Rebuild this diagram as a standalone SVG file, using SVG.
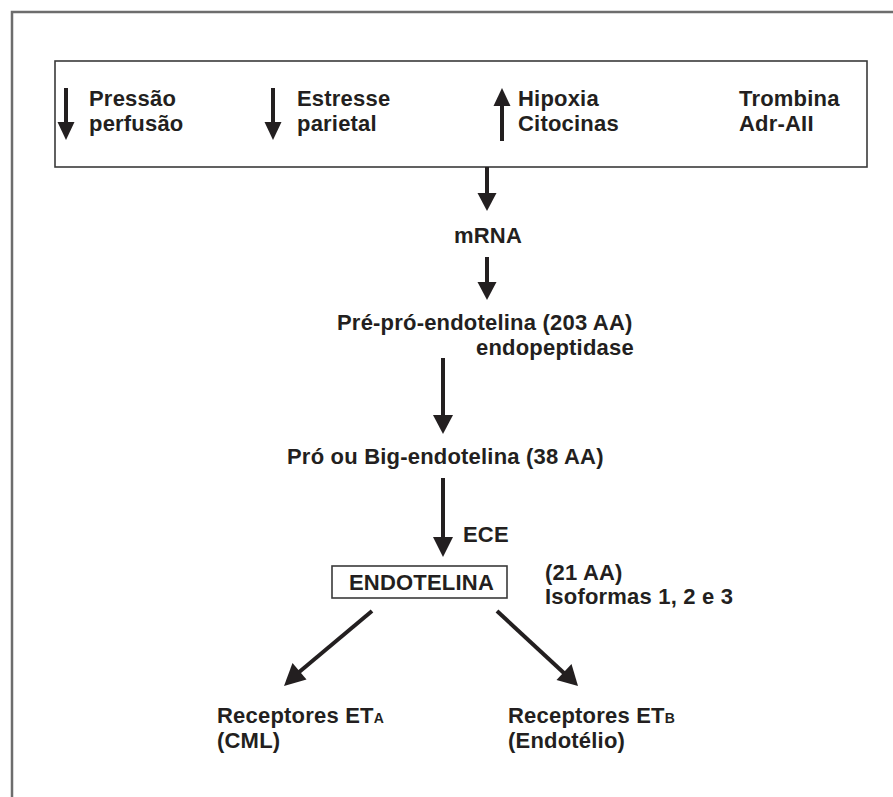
<svg xmlns="http://www.w3.org/2000/svg" width="893" height="797" viewBox="0 0 893 797">
<style>
  text { font-family: "Liberation Sans", Arial, sans-serif; font-weight: bold; font-size: 22px; letter-spacing: 0.2px; fill: #231f20; }
  .sub { font-size: 14px; letter-spacing: 0; }
  .shaft { stroke: #231f20; stroke-width: 4; fill: none; }
  .head { fill: #231f20; stroke: none; }
  .frame { fill: #ffffff; stroke: #6d6d6d; stroke-width: 2.5; }
  .box { fill: #ffffff; stroke: #3a3a3a; stroke-width: 1.6; }
</style>
<rect x="0" y="0" width="893" height="797" fill="#ffffff"/>
<rect class="frame" x="12" y="12" width="900" height="800"/>

<g id="stimuli">
  <rect class="box" x="55" y="61" width="812" height="106"/>
  <g id="pressao">
    <line class="shaft" x1="66" y1="88" x2="66" y2="124"/>
    <polygon class="head" points="57.5,122 74.5,122 66,140"/>
    <text x="89" y="106">Pressão</text>
    <text x="89" y="131">perfusão</text>
  </g>
  <g id="estresse">
    <line class="shaft" x1="273" y1="88" x2="273" y2="124"/>
    <polygon class="head" points="264.5,122 281.5,122 273,140"/>
    <text x="297" y="106">Estresse</text>
    <text x="297" y="131">parietal</text>
  </g>
  <g id="hipoxia">
    <line class="shaft" x1="502" y1="104" x2="502" y2="141"/>
    <polygon class="head" points="493.5,106 510.5,106 502,88"/>
    <text x="518" y="106">Hipoxia</text>
    <text x="518" y="131">Citocinas</text>
  </g>
  <g id="trombina">
    <text x="739" y="106">Trombina</text>
    <text x="739" y="131">Adr-AII</text>
  </g>
</g>

<g id="mrna">
  <text x="454" y="243">mRNA</text>
</g>

<g id="preproendotelina">
  <text x="337" y="330">Pré-pró-endotelina (203 AA)</text>
  <text x="476" y="355">endopeptidase</text>
</g>

<g id="bigendotelina">
  <text x="287" y="464">Pró ou Big-endotelina (38 AA)</text>
</g>

<g id="ece">
  <text x="463" y="542">ECE</text>
</g>

<g id="endotelina">
  <rect class="box" x="332" y="566" width="175" height="32"/>
  <text x="349" y="590">ENDOTELINA</text>
</g>

<g id="isoformas">
  <text x="545" y="580">(21 AA)</text>
  <text x="545" y="604">Isoformas 1, 2 e 3</text>
</g>

<g id="eta">
  <text x="217" y="723">Receptores ET<tspan class="sub">A</tspan></text>
  <text x="217" y="748">(CML)</text>
</g>

<g id="etb">
  <text x="508" y="723">Receptores ET<tspan class="sub">B</tspan></text>
  <text x="508" y="748">(Endotélio)</text>
</g>

<g id="connectors">
  <line class="shaft" x1="487" y1="167" x2="487" y2="195"/>
  <polygon class="head" points="477.5,193 496.5,193 487,211"/>
  <line class="shaft" x1="487" y1="257" x2="487" y2="284"/>
  <polygon class="head" points="477.5,282 496.5,282 487,300"/>
  <line class="shaft" x1="443" y1="358" x2="443" y2="417"/>
  <polygon class="head" points="433,415 453,415 443,434"/>
  <line class="shaft" x1="443" y1="478" x2="443" y2="539"/>
  <polygon class="head" points="433,537 453,537 443,557"/>
  <line class="shaft" x1="372" y1="611" x2="298" y2="673"/>
  <polygon class="head" points="284,686 292.5,663 306.5,679.5"/>
  <line class="shaft" x1="497" y1="611" x2="565" y2="674"/>
  <polygon class="head" points="578,686 556.5,680 571.5,664"/>
</g>
</svg>
